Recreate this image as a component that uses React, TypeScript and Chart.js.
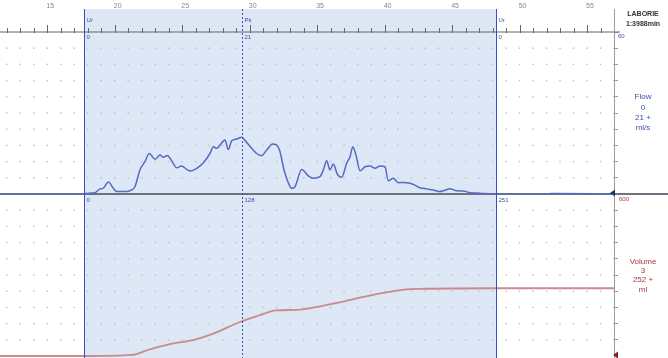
import React, { useEffect, useRef } from 'react';
import { Chart, registerables } from 'chart.js';

Chart.register(...registerables);

// ---- data (time in s, flow in ml/s, volume in ml) ----
const timeRange = [11.5, 57];
const flowTime = [
  11.5, 17.72, 17.8, 18.54, 18.91, 19.13, 19.53, 19.9, 20.15, 20.89, 21.26, 21.5, 21.87, 22.24,
  22.56, 22.99, 23.36, 23.6, 23.9, 24.22, 24.59, 24.96, 25.33, 25.65, 26.08, 26.57, 27.06, 27.31,
  27.56, 27.8, 28.17, 28.42, 28.67, 29.04, 29.41, 29.73, 30.15, 30.52, 30.89, 31.26, 31.71, 32.2,
  32.55, 32.94, 33.12, 33.36, 33.86, 34.35, 34.72, 35.21, 35.46, 35.71, 35.95, 36.2, 36.49, 36.82,
  37.19, 37.44, 37.64, 37.88, 38.18, 38.55, 38.92, 39.29, 39.66, 40.03, 40.27, 40.64, 41.01, 41.39,
  41.88, 42.25, 42.62, 43.12, 43.61, 44.1, 44.35, 44.85, 45.34, 45.83, 46.33, 47.07, 48.05, 48.25,
  52.0, 52.4, 57,
];
const flowRate = [
  0, 0, 0.2, 0.5, 1.9, 2.1, 4.4, 2.1, 0.9, 0.9, 1.5, 2.7, 8.9, 12,
  15, 12.9, 14.4, 13.6, 14.3, 12.3, 9.7, 10.4, 9.1, 8.5, 9.5, 11.6, 15, 17.5,
  16.9, 18.1, 20, 16.5, 19.7, 20.4, 21, 19.4, 16.9, 15, 14.2, 16.3, 18.5, 16.5,
  8.9, 3.3, 2.1, 2.7, 9.1, 6.7, 5.8, 6.4, 8.9, 12.3, 8.9, 11.1, 7.4, 6.2,
  11.4, 13.8, 17.5, 14.4, 8.6, 10.1, 10.4, 9.5, 10.4, 10.1, 4.9, 5.8, 4.2, 4.3,
  4, 3.3, 2.3, 1.9, 1.5, 0.9, 1.2, 1.9, 1.2, 1.1, 0.5, 0.3, 0, 0,
  0, 0.2, 0,
];
const volumeTime = [11.5, 17.72, 21.28, 22.54, 24.1, 25.95, 27.21, 29.28, 30.69, 31.95, 33.51, 35.14, 36.69, 38.25, 39.81, 41.44, 42.99, 48.18, 57];
const volumeMl = [0, 0, 4, 24, 44, 61, 81, 126, 150, 169, 171, 183, 199, 217, 233, 246, 249, 251, 251];

const flowAxis = [0, 60, 6];
const volumeAxis = [0, 600, 60];
const cursorTimes = [17.72, 29.41, 48.25];
const cursorTags = ['Ur', 'Pk', 'Ur'];
const cursorFlowLabels = ['0', '21', '0'];
const cursorVolumeLabels = ['0', '128', '251'];
const headerLines = ['LABORIE', '1:3988min'];
const flowLabels = ['Flow', '0', '21 +', 'ml/s'];
const volumeLabels = ['Volume', '3', '252 +', 'ml'];

const BLUE = '#3d4fb5';
const RED = '#a83a3a';
const FONT = '"Liberation Sans", Arial, sans-serif';

const overlay = {
  id: 'overlay',
  beforeDraw(chart: any) {
    const { ctx, scales } = chart;
    const x = scales.x;
    const a = x.getPixelForValue(cursorTimes[0]);
    const b = x.getPixelForValue(cursorTimes[2]);
    ctx.save();
    ctx.fillStyle = '#dde7f5';
    ctx.fillRect(a, 9, b - a, chart.height - 9);
    ctx.restore();
  },
  beforeDatasetsDraw(chart: any) {
    const { ctx, scales, chartArea } = chart;
    const x = scales.x, y = scales.y, y2 = scales.y2;
    ctx.save();
    // grid dots
    ctx.fillStyle = '#bcc4d4';
    for (let t = Math.ceil(x.min); t <= x.max; t++) {
      const px = x.getPixelForValue(t);
      for (let v = flowAxis[0] + flowAxis[2]; v < flowAxis[1]; v += flowAxis[2]) {
        const py = y.getPixelForValue(v);
        ctx.fillRect(px - 0.75, py - 0.75, 1.5, 1.5);
      }
      for (let v = volumeAxis[0] + volumeAxis[2]; v < volumeAxis[1]; v += volumeAxis[2]) {
        const py = y2.getPixelForValue(v);
        ctx.fillRect(px - 0.75, py - 0.75, 1.5, 1.5);
      }
    }
    // top axis tick marks
    ctx.strokeStyle = '#666';
    ctx.lineWidth = 1;
    for (let t = Math.ceil(x.min); t <= x.max; t++) {
      const px = Math.round(x.getPixelForValue(t)) + 0.5;
      const len = t % 5 === 0 ? 7 : 4;
      ctx.beginPath();
      ctx.moveTo(px, chartArea.top - len);
      ctx.lineTo(px, chartArea.top + 1);
      ctx.stroke();
    }
    ctx.beginPath();
    ctx.moveTo(0, chartArea.top);
    ctx.lineTo(chartArea.right + 6, chartArea.top);
    ctx.stroke();
    // panel separator / flow baseline
    const yb = y.getPixelForValue(0);
    ctx.strokeStyle = '#6c727e';
    ctx.lineWidth = 2;
    ctx.beginPath();
    ctx.moveTo(0, yb);
    ctx.lineTo(chart.width, yb);
    ctx.stroke();
    // right vertical axis line extension
    ctx.strokeStyle = '#9a9a9a';
    ctx.lineWidth = 1;
    ctx.beginPath();
    ctx.moveTo(chartArea.right + 0.5, 9);
    ctx.lineTo(chartArea.right + 0.5, chart.height);
    ctx.stroke();
    ctx.restore();
  },
  afterDatasetsDraw(chart: any) {
    const { ctx, scales, chartArea } = chart;
    const x = scales.x, y = scales.y;
    ctx.save();
    // cursor lines
    cursorTimes.forEach((t, i) => {
      const px = Math.round(x.getPixelForValue(t)) + 0.5;
      ctx.strokeStyle = BLUE;
      ctx.lineWidth = 1;
      ctx.setLineDash(i === 1 ? [2, 2] : []);
      ctx.beginPath();
      ctx.moveTo(px, 9);
      ctx.lineTo(px, chart.height);
      ctx.stroke();
      ctx.setLineDash([]);
      ctx.font = `6px ${FONT}`;
      ctx.fillStyle = BLUE;
      ctx.textAlign = 'left';
      ctx.textBaseline = 'middle';
      ctx.fillText(cursorTags[i], px + 2, 20);
      ctx.fillText(cursorFlowLabels[i], px + 2, 37);
      ctx.fillText(cursorVolumeLabels[i], px + 2, y.getPixelForValue(0) + 6);
    });
    // right side labels
    const cx = 643;
    ctx.textAlign = 'center';
    ctx.textBaseline = 'middle';
    ctx.fillStyle = '#333';
    ctx.font = `bold 7px ${FONT}`;
    ctx.fillText(headerLines[0], cx, 14);
    ctx.fillText(headerLines[1], cx, 24);
    ctx.fillStyle = BLUE;
    ctx.font = `8px ${FONT}`;
    [97, 108, 118, 128].forEach((py, i) => ctx.fillText(flowLabels[i], cx, py));
    ctx.fillStyle = RED;
    [262, 271, 280, 290].forEach((py, i) => ctx.fillText(volumeLabels[i], cx, py));
    ctx.font = `6px ${FONT}`;
    ctx.textAlign = 'left';
    ctx.fillStyle = BLUE;
    ctx.fillText(String(flowAxis[1]), chartArea.right + 4, chartArea.top + 4);
    ctx.fillStyle = RED;
    ctx.fillText(String(volumeAxis[1]), chartArea.right + 5, y.getPixelForValue(0) + 5);
    // level markers (triangles)
    const tri = (px: number, py: number, col: string) => {
      ctx.fillStyle = col;
      ctx.beginPath();
      ctx.moveTo(px - 4, py);
      ctx.lineTo(px + 1, py - 3.5);
      ctx.lineTo(px + 1, py + 3.5);
      ctx.closePath();
      ctx.fill();
    };
    tri(chartArea.right, y.getPixelForValue(0) - 1, '#1f2f80');
    tri(chartArea.right + 3, chartArea.bottom - 1, '#8a2020');
    ctx.restore();
  },
};

export default function App() {
  const ref = useRef<HTMLCanvasElement | null>(null);
  useEffect(() => {
    if (!ref.current) return;
    const chart = new Chart(ref.current, {
      type: 'line',
      data: {
        datasets: [
          {
            label: 'Flow',
            data: flowTime.map((t, i) => ({ x: t, y: flowRate[i] })),
            yAxisID: 'y',
            borderColor: '#5669c4',
            borderWidth: 1.5,
            pointRadius: 0,
            cubicInterpolationMode: 'monotone',
          },
          {
            label: 'Volume',
            data: volumeTime.map((t, i) => ({ x: t, y: volumeMl[i] })),
            yAxisID: 'y2',
            borderColor: '#c98b8b',
            borderWidth: 1.8,
            pointRadius: 0,
            clip: { left: 0, right: 0, top: 0, bottom: 3 },
            cubicInterpolationMode: 'monotone',
          },
        ],
      },
      options: {
        animation: false,
        responsive: false,
        events: [],
        layout: { autoPadding: false, padding: { top: 0, bottom: 2, left: 0, right: 0 } },
        plugins: { legend: { display: false }, tooltip: { enabled: false } },
        scales: {
          x: {
            type: 'linear',
            position: 'top',
            min: timeRange[0],
            max: timeRange[1],
            grid: { display: false },
            border: { display: false },
            ticks: {
              stepSize: 1,
              autoSkip: false,
              maxRotation: 0,
              padding: 14,
              labelOffset: 3,
              color: '#888',
              font: { size: 7, family: FONT },
              callback: (v: any) => (Number(v) % 5 === 0 ? String(v) : ''),
            },
            afterFit: (s: any) => { s.height = 32; s.paddingLeft = 0; s.paddingRight = 0; },
          },
          y: {
            type: 'linear',
            position: 'right',
            stack: 'panels',
            stackWeight: 1,
            min: flowAxis[0],
            max: flowAxis[1],
            ticks: { stepSize: flowAxis[2], display: false },
            grid: { drawOnChartArea: false, tickLength: 4, color: '#9a9a9a' },
            border: { display: true, color: '#9a9a9a' },
            afterFit: (s: any) => { s.width = 54; s.paddingTop = 0; s.paddingBottom = 0; },
          },
          y2: {
            type: 'linear',
            position: 'right',
            stack: 'panels',
            stackWeight: 1,
            min: volumeAxis[0],
            max: volumeAxis[1],
            ticks: { stepSize: volumeAxis[2], display: false },
            grid: { drawOnChartArea: false, tickLength: 4, color: '#9a9a9a' },
            border: { display: true, color: '#9a9a9a' },
            afterFit: (s: any) => { s.width = 54; s.paddingTop = 0; s.paddingBottom = 0; },
          },
        },
      } as any,
      plugins: [overlay],
    });
    return () => chart.destroy();
  }, []);
  return (
    <div style={{ position: 'absolute', left: 0, top: 0, width: 668, height: 358, background: '#fff' }}>
      <canvas ref={ref} width={668} height={358} style={{ width: 668, height: 358, display: 'block' }} />
    </div>
  );
}
